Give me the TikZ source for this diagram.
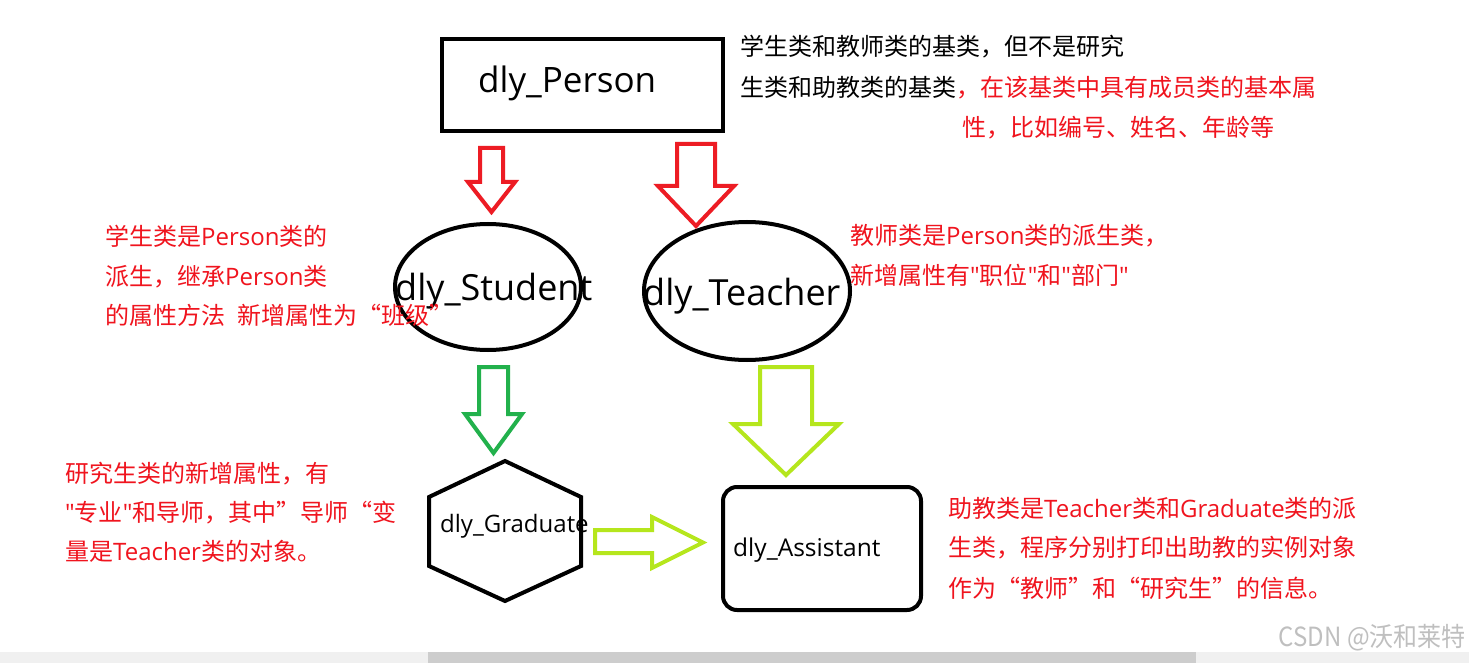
\documentclass[tikz,border=0pt]{standalone}
\usepackage{fontspec}
\setmainfont{Open Sans}
\newfontfamily\cjk{Noto Sans CJK SC}
\newfontfamily\latfont{Open Sans}
\newcommand\latn[1]{{\latfont #1}}
\usetikzlibrary{shapes.geometric}
\definecolor{pred}{HTML}{ED1C24}
\definecolor{pgreen}{HTML}{22B14C}
\definecolor{plime}{HTML}{B5E61D}
\definecolor{tred}{HTML}{F0141E}
\definecolor{sbbg}{HTML}{F0F0F0}
\definecolor{sbthumb}{HTML}{CDCDCD}
\begin{document}
\begin{tikzpicture}[x=1pt,y=-1pt,
  shapeline/.style={draw=black,line width=4pt},
  blockarrow/.style={line width=4pt,line join=miter},
  note/.style={inner sep=0pt,anchor=base west,font=\cjk\fontsize{24}{24}\selectfont},
  rednote/.style={note,text=tred},
  biglabel/.style={inner sep=0pt,anchor=base west,font=\fontsize{36}{36}\selectfont},
  smalllabel/.style={inner sep=0pt,anchor=base west,font=\fontsize{24}{24}\selectfont},
]
\useasboundingbox (0,0) rectangle (1469,663);
\fill[white] (0,0) rectangle (1469,663);

% class shapes
\node[shapeline,rectangle,minimum width=281pt,minimum height=92pt,inner sep=0pt] (personbox) at (582.5,85) {};
\node[shapeline,ellipse,minimum width=186pt,minimum height=126pt,inner sep=0pt] (studentbox) at (488,287) {};
\node[shapeline,ellipse,minimum width=206pt,minimum height=138pt,inner sep=0pt] (teacherbox) at (747,291) {};
\draw[shapeline,line join=miter] (505,461) -- (581,497) -- (581,566) -- (505,601) -- (429,566) -- (429,497) -- cycle;
\node[shapeline,rectangle,rounded corners=14pt,minimum width=198pt,minimum height=123pt,inner sep=0pt] (assistantbox) at (822,548.5) {};

% labels
\node[biglabel,font=\fontsize{35}{35}\selectfont] (person) at (478,93) {dly\_Person};
\node[biglabel] (student) at (395,300) {dly\_Student};
\node[biglabel] (teacher) at (643,305) {dly\_Teacher};
\node[smalllabel] (graduate) at (440,532) {dly\_Graduate};
\node[smalllabel,font=\fontsize{24.5}{24.5}\selectfont] (assistant) at (733,556) {dly\_Assistant};

% block arrows
\draw[blockarrow,draw=pred] (480,148) -- (503,148) -- (503,182) -- (515,182) -- (491.5,212) -- (468,182) -- (480,182) -- cycle;
\draw[blockarrow,draw=pred] (677,144) -- (715,144) -- (715,186) -- (734,186) -- (696,226) -- (658,186) -- (677,186) -- cycle;
\draw[blockarrow,draw=pgreen] (479,367) -- (508,367) -- (508,414) -- (522,414) -- (493.5,453) -- (465,414) -- (479,414) -- cycle;
\draw[blockarrow,draw=plime] (760,367) -- (812,367) -- (812,424) -- (839,424) -- (786,475) -- (733,424) -- (760,424) -- cycle;
\draw[blockarrow,draw=plime] (595,530) -- (652,530) -- (652,517) -- (703,542.5) -- (652,568) -- (652,553) -- (595,553) -- cycle;

% notes
\node[note] (top1) at (740,56) {学生类和教师类的基类，但不是研究};
\node[note] (top2) at (740,97) {生类和助教类的基类\textcolor{tred}{，在该基类中具有成员类的基本属}};
\node[rednote] (top3) at (962,137) {性，比如编号、姓名、年龄等};

\node[rednote] (stu1) at (105,245) {学生类是\latn{Person}类的};
\node[rednote] (stu2) at (105,285) {派生，继承\latn{Person}类};
\node[rednote] (stu3) at (105,324) {的属性方法\hspace{12pt}新增属性为“班级”};

\node[rednote] (tea1) at (850,244) {教师类是\latn{Person}类的派生类，};
\node[rednote] (tea2) at (850,284) {新增属性有\latn{"}职位\latn{"}和\latn{"}部门\latn{"}};

\node[rednote] (gra1) at (65,482) {研究生类的新增属性，有};
\node[rednote] (gra2) at (65,521) {\latn{"}专业\latn{"}和导师，其中”导师“变};
\node[rednote] (gra3) at (65,560) {量是\latn{Teacher}类的对象。};

\node[rednote] (ass1) at (948,517) {助教类是\latn{Teacher}类和\latn{Graduate}类的派};
\node[rednote] (ass2) at (948,556) {生类，程序分别打印出助教的实例对象};
\node[rednote] (ass3) at (948,597) {作为“教师”和“研究生”的信息。};

% scrollbar and watermark
\fill[sbbg] (0,652) rectangle (1469,663);
\fill[sbthumb] (428,652) rectangle (1196,663);
\node[inner sep=0pt,anchor=base east,text=black!25,font=\cjk\fontsize{24}{24}\selectfont,yscale=1.1] (wm) at (1466,646) {CSDN @沃和莱特};
\end{tikzpicture}
\end{document}
